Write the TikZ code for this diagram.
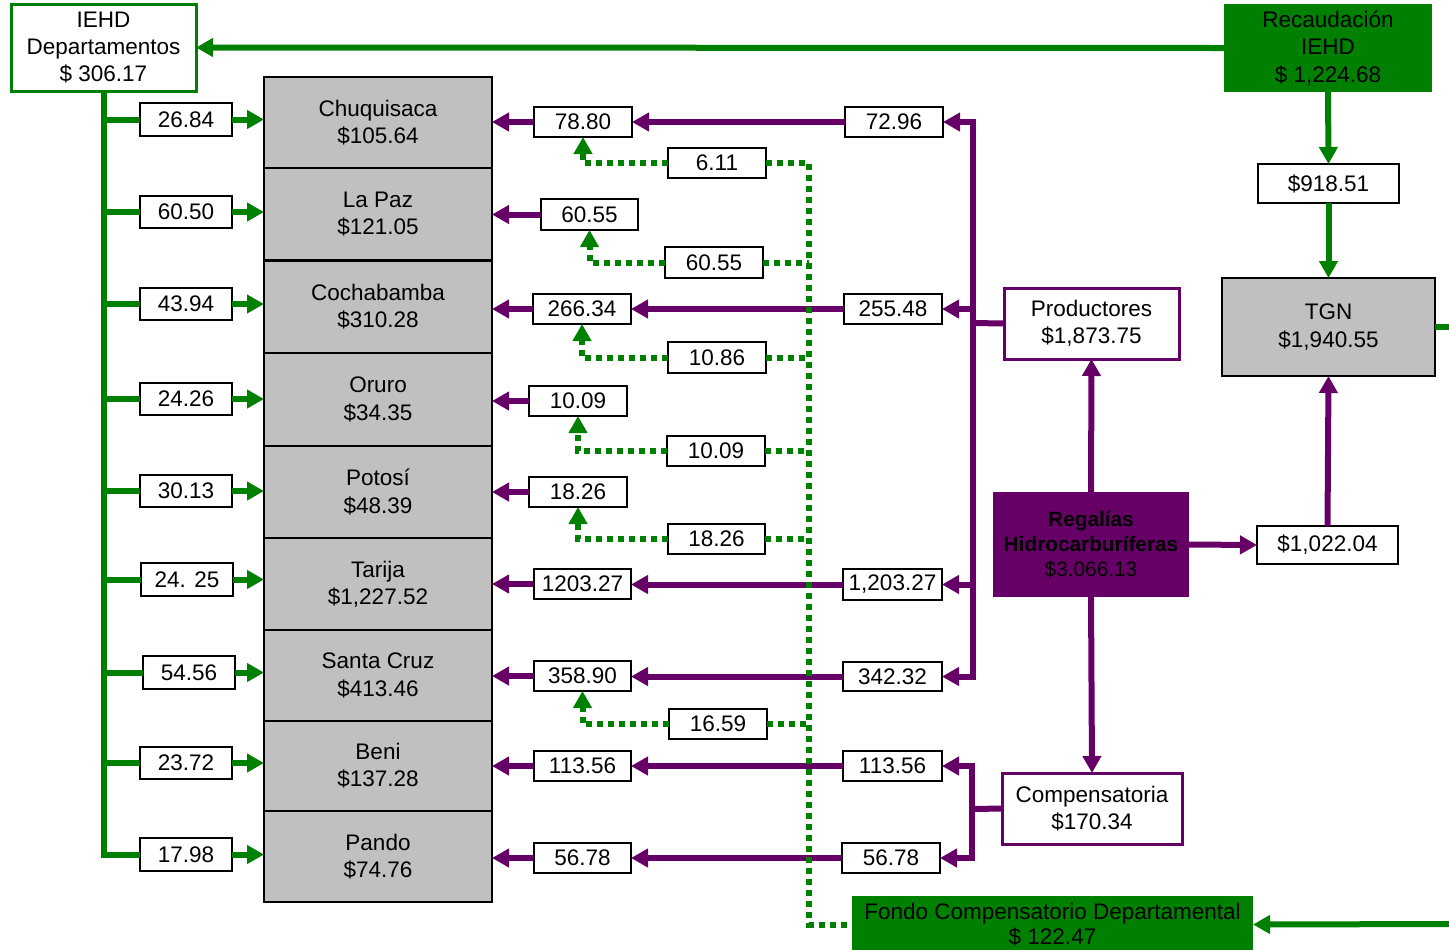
\documentclass[tikz,border=0pt]{standalone}
\usepackage{fontspec}
\setmainfont{Liberation Sans}
\usetikzlibrary{arrows.meta}
\definecolor{gr}{RGB}{0,128,0}
\definecolor{pu}{RGB}{102,0,102}
\definecolor{gy}{RGB}{192,192,192}
\tikzset{
 every node/.style={font=\fontsize{11.25}{13.6}\selectfont, align=center, inner sep=0pt, outer sep=0pt},
 val/.style={draw=black, line width=1pt, fill=white},
 dept/.style={draw=black, line width=1pt, fill=gy},
 gline/.style={draw=gr, line width=3pt},
 garrow/.style={gline, -{Triangle[length=8.5pt,width=9pt]}},
 pline/.style={draw=pu, line width=3pt},
 parrow/.style={pline, -{Triangle[length=8.5pt,width=9pt]}},
 gdot/.style={draw=gr, line width=3pt, dash pattern=on 3pt off 2.5pt},
 gdotarrow/.style={gdot, -{Triangle[length=8.5pt,width=9pt]}},
}
\newcommand{\bx}[7]{%
 \pgfmathsetmacro\bxw{(#5-#3)*0.5}\pgfmathsetmacro\bxh{(#6-#4)*0.5}%
 \node[#1, minimum width=\bxw pt, minimum height=\bxh pt] (#2) at ({(#3+#5)/2},{(#4+#6)/2}) {#7};}
\begin{document}
\begin{tikzpicture}[x=0.5pt,y=-0.5pt]
\useasboundingbox (0,0) rectangle (1449,949);
% main boxes
\bx{draw=gr,line width=1.5pt,fill=white}{iehd}{11}{4}{196}{91}{IEHD\\Departamentos\\\$ 306.17}
\bx{fill=gr}{rec}{1224}{4}{1432}{92}{Recaudación\\IEHD\\\$ 1,224.68}
\bx{val}{t918}{1258}{164}{1399}{203}{\$918.51}
\bx{dept}{tgn}{1222}{278}{1435}{376}{TGN\\\$1,940.55}
\bx{draw=pu,line width=1.5pt,fill=white}{prod}{1004}{288}{1179}{359}{Productores\\\$1,873.75}
\bx{fill=pu,font=\fontsize{10.4}{12.3}\selectfont}{reg}{993}{492}{1189}{597}{\textbf{Regalías}\\\textbf{Hidrocarburíferas}\\\$3.066.13}
\bx{val}{t1022}{1257}{526}{1398}{564}{\$1,022.04}
\bx{draw=pu,line width=1.5pt,fill=white}{comp}{1002}{773}{1182}{844}{Compensatoria\\\$170.34}
\bx{fill=gr,font=\fontsize{11.25}{12.5}\selectfont}{fondo}{852}{896}{1253}{953}{Fondo Compensatorio Departamental\\\$ 122.47}
% departments
\bx{dept}{d1}{264}{77}{492}{168}{Chuquisaca\\\$105.64}
\bx{dept}{d2}{264}{168}{492}{260}{La Paz\\\$121.05}
\bx{dept}{d3}{264}{261}{492}{353}{Cochabamba\\\$310.28}
\bx{dept}{d4}{264}{353}{492}{446}{Oruro\\\$34.35}
\bx{dept}{d5}{264}{446}{492}{538}{Potosí\\\$48.39}
\bx{dept}{d6}{264}{538}{492}{630}{Tarija\\\$1,227.52}
\bx{dept}{d7}{264}{630}{492}{721}{Santa Cruz\\\$413.46}
\bx{dept}{d8}{264}{721}{492}{811}{Beni\\\$137.28}
\bx{dept}{d9}{264}{811}{492}{902}{Pando\\\$74.76}
% green value boxes
\bx{val}{v1}{140}{103}{232}{136}{26.84}
\bx{val}{v2}{140}{196}{232}{228}{60.50}
\bx{val}{v3}{140}{288}{232}{320}{43.94}
\bx{val}{v4}{140}{383}{232}{415}{24.26}
\bx{val}{v5}{140}{475}{232}{507}{30.13}
\bx{val}{v6}{141}{563}{233}{596}{24. 25}
\bx{val}{v7}{143}{656}{235}{689}{54.56}
\bx{val}{v8}{140}{747}{232}{779}{23.72}
\bx{val}{v9}{140}{838}{232}{871}{17.98}
% purple right boxes
\bx{val}{r1}{845}{107}{943}{137}{72.96}
\bx{val}{r3}{844}{294}{942}{324}{255.48}
\bx{val}{r6}{843}{569}{942}{600}{1,203.27}
\bx{val}{r7}{843}{662}{942}{691}{342.32}
\bx{val}{r8}{843}{751}{942}{781}{113.56}
\bx{val}{r9}{842}{843}{940}{873}{56.78}
% purple left boxes
\bx{val}{l1}{534}{107}{632}{137}{78.80}
\bx{val}{l2}{541}{199}{638}{230}{60.55}
\bx{val}{l3}{533}{294}{631}{324}{266.34}
\bx{val}{l4}{529}{386}{627}{416}{10.09}
\bx{val}{l5}{529}{477}{627}{507}{18.26}
\bx{val}{l6}{534}{569}{631}{599}{1203.27}
\bx{val}{l7}{534}{661}{631}{691}{358.90}
\bx{val}{l8}{534}{751}{631}{781}{113.56}
\bx{val}{l9}{534}{843}{631}{873}{56.78}
% green dotted boxes
\bx{val}{g1}{668}{148}{766}{178}{6.11}
\bx{val}{g2}{665}{247}{763}{278}{60.55}
\bx{val}{g3}{668}{342}{766}{373}{10.86}
\bx{val}{g4}{667}{436}{765}{466}{10.09}
\bx{val}{g5}{668}{524}{765}{554}{18.26}
\bx{val}{g7}{669}{709}{767}{739}{16.59}
% helper coordinates
\coordinate (pb) at (973,323);
\coordinate (cb) at (972,809);
\coordinate (gb) at (809,163);
\coordinate (tgnR) at (1449,327);
\coordinate (fondoR) at (1449,924);
% green connectors (top right)
\draw[garrow] (rec.west) -- (iehd.east);
\draw[garrow] (rec.south) -- (t918.north);
\draw[garrow] (t918.south) -- (tgn.north);
\draw[gline] (tgn.east) -- (tgnR);
\draw[garrow] (fondoR) -- (fondo.east);
% purple connectors (right)
\draw[parrow] (t1022.north) -- (tgn.south);
\draw[parrow] (reg.east) -- (t1022.west);
\draw[parrow] (reg.north) -- (prod.south);
\draw[parrow] (reg.south) -- (comp.north);
\draw[pline] (prod.west) -- (pb);
\draw[pline, line cap=rect] (r1.east -| pb) -- (r7.east -| pb);
\foreach \r in {r1,r3,r6,r7} \draw[parrow] (\r.east -| pb) -- (\r.east);
\draw[pline] (comp.west) -- (cb);
\draw[pline, line cap=rect] (r8.east -| cb) -- (r9.east -| cb);
\foreach \r in {r8,r9} \draw[parrow] (\r.east -| cb) -- (\r.east);
\foreach \r/\l in {r1/l1,r3/l3,r6/l6,r7/l7,r8/l8,r9/l9} \draw[parrow] (\r.west) -- (\r.west -| \l.east);
\foreach \l/\d in {l1/d1,l2/d2,l3/d3,l4/d4,l5/d5,l6/d6,l7/d7,l8/d8,l9/d9} \draw[parrow] (\l.west) -- (\l.west -| \d.east);
% green connectors (left)
\draw[gline] (iehd.south) -- (iehd.south |- v9.west) -- (v9.west);
\foreach \v in {v1,v2,v3,v4,v5,v6,v7,v8} \draw[gline] (iehd.south |- \v.west) -- (\v.west);
\foreach \v/\d in {v1/d1,v2/d2,v3/d3,v4/d4,v5/d5,v6/d6,v7/d7,v8/d8,v9/d9} \draw[garrow] (\v.east) -- (\v.east -| \d.west);
% green dotted connectors
\draw[gdot] (g1.east) -- (gb) -- (gb |- fondo.west) -- (fondo.west);
\foreach \g in {g2,g3,g4,g5,g7} \draw[gdot] (\g.east) -- (\g.east -| gb);
\foreach \g/\l in {g1/l1,g2/l2,g3/l3,g4/l4,g5/l5,g7/l7} \draw[gdotarrow] (\g.west) -- (\g.west -| \l.south) -- (\l.south);
\end{tikzpicture}
\end{document}
